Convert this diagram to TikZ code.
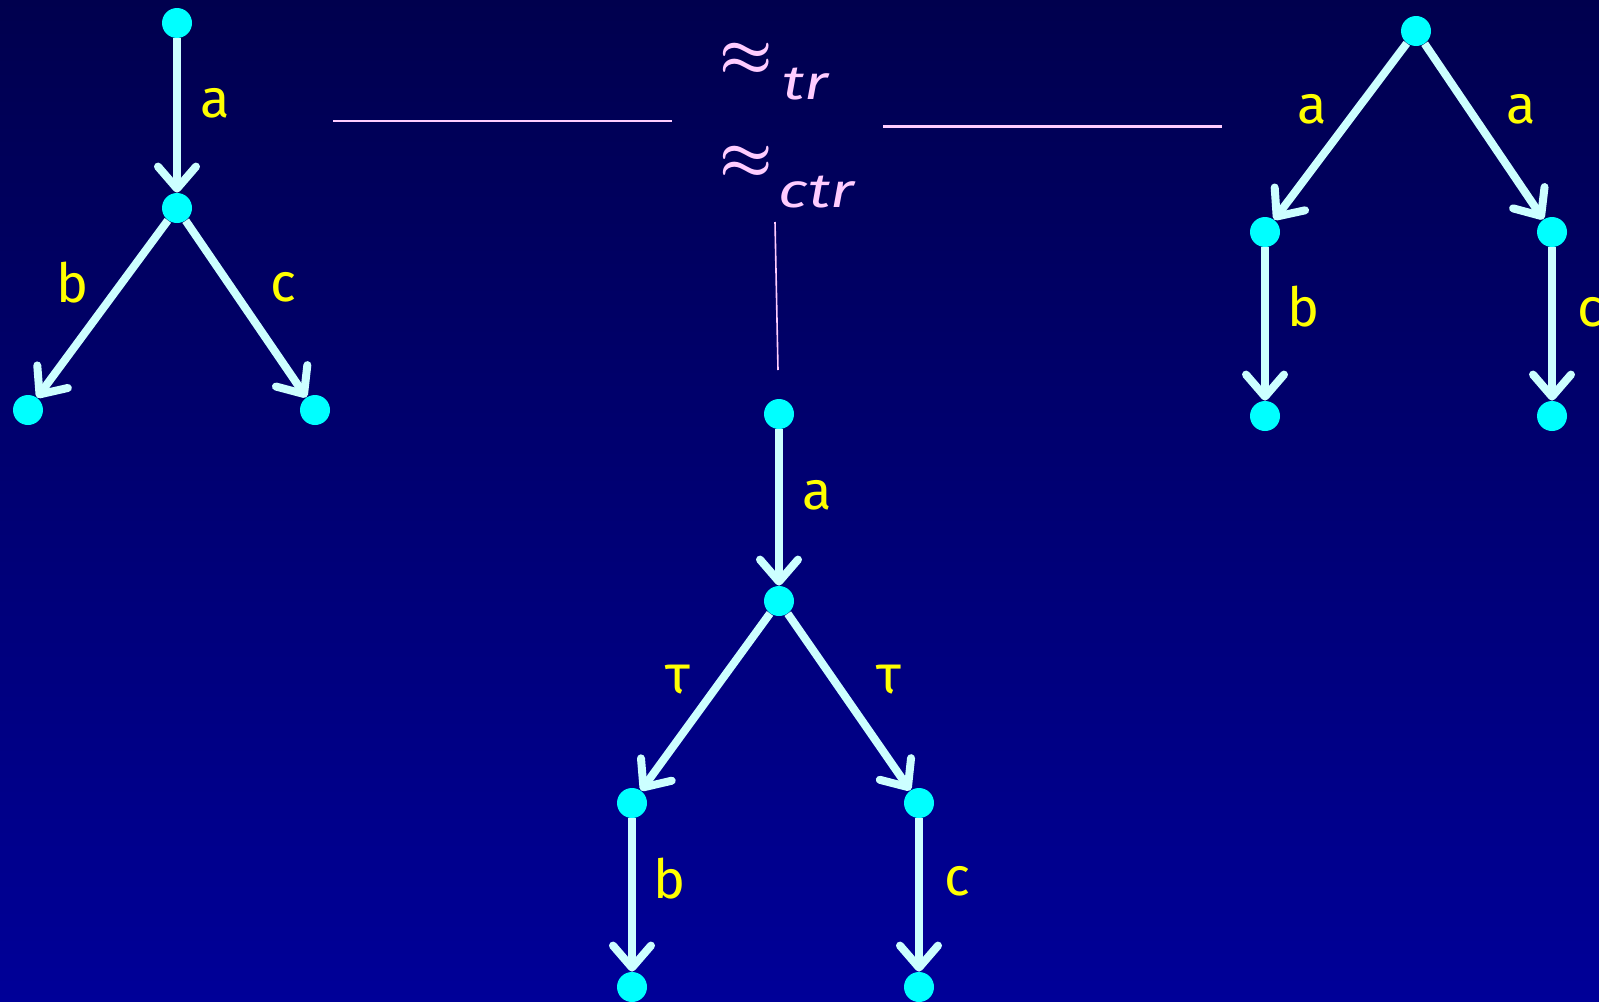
\documentclass[tikz,border=0pt]{standalone}
\usepackage{fontspec}
\setmainfont{Fira Sans}
\usetikzlibrary{positioning, arrows.meta, calc}

\definecolor{bgtop}{RGB}{0,0,78}
\definecolor{bgbot}{RGB}{0,0,152}
\definecolor{dotcyan}{RGB}{0,255,255}
\definecolor{arrcyan}{RGB}{204,255,255}
\definecolor{lblyellow}{RGB}{255,255,0}
\definecolor{relpink}{RGB}{255,204,255}

\newcommand{\relsym}{\scalebox{1.2}{\boldmath$\approx$}}
\newcommand{\relsub}[1]{\scalebox{1.3}[1]{\fontsize{24}{28}\selectfont\itshape #1}}

\tikzset{
    state/.style={circle, fill=dotcyan, inner sep=0pt, minimum size=15pt},
    trans/.style={draw=arrcyan, line width=4pt, ->},
    lbl/.style={text=lblyellow, font=\fontsize{27}{30}\selectfont, inner sep=0pt},
    rel/.style={text=relpink, inner sep=0pt, anchor=base west, font=\fontsize{24.88}{30}\selectfont},
    relline/.style={draw=relpink},
}

\begin{document}
\begin{tikzpicture}[%
    x=0.5pt, y=-0.5pt,  % pixel grid, y runs down
    >={Straight Barb[length=11pt, width=19pt, round]},
]

    % ==========================================
    % 0. Background
    % ==========================================
    \useasboundingbox (0,0) rectangle (1599,1001);
    \shade[top color=bgtop, bottom color=bgbot] (0,0) rectangle (1599,1001);

    % ==========================================
    % 1. States (Nodes)
    % ==========================================
    % --- left tree ---
    \node[state] (l0) at (177, 23) {};
    \node[state] (l1) at (177,208) {};
    \node[state] (l2) at ( 28,410) {};
    \node[state] (l3) at (315,410) {};

    % --- middle tree ---
    \node[state] (m0) at (779,414) {};
    \node[state] (m1) at (779,601) {};
    \node[state] (m2) at (632,803) {};
    \node[state] (m3) at (919,803) {};
    \node[state] (m4) at (632,987) {};
    \node[state] (m5) at (919,987) {};

    % --- right tree ---
    \node[state] (r0) at (1416, 31) {};
    \node[state] (r1) at (1265,232) {};
    \node[state] (r2) at (1552,232) {};
    \node[state] (r3) at (1265,416) {};
    \node[state] (r4) at (1552,416) {};

    % ==========================================
    % 2. Transitions (Edges)
    % ==========================================
    \path[trans]
        % --- left tree ---
        (l0) edge node[lbl, xshift=19pt, yshift=6pt] {a} (l1)
        (l1) edge node[lbl, xshift=-15pt, yshift=13pt] {b} (l2)
        (l1) edge node[lbl, xshift=18.5pt, yshift=11pt] {c} (l3)

        % --- middle tree ---
        (m0) edge node[lbl, xshift=19pt, yshift=6pt] {a} (m1)
        (m1) edge node[lbl, xshift=-14pt, yshift=11pt] {τ} (m2)
        (m1) edge node[lbl, xshift=20pt, yshift=11pt] {τ} (m3)
        (m2) edge node[lbl, xshift=19pt, yshift=8pt] {b} (m4)
        (m3) edge node[lbl, xshift=19pt, yshift=7pt] {c} (m5)

        % --- right tree ---
        (r0) edge node[lbl, xshift=-14pt, yshift=11pt] {a} (r1)
        (r0) edge node[lbl, xshift=18.5pt, yshift=11pt] {a} (r2)
        (r1) edge node[lbl, xshift=19.5pt, yshift=8.5pt] {b} (r3)
        (r2) edge node[lbl, xshift=19pt, yshift=6pt] {c} (r4);

    % ==========================================
    % 3. Relations between the trees
    % ==========================================
    \node[rel] (tr) at (719,74)
        {\relsym\hspace{5pt}\raisebox{-13pt}{\relsub{tr}}};
    \node[rel] (ctr) at (719,177)
        {\relsym\hspace{3pt}\raisebox{-15pt}{\relsub{ctr}}};

    \coordinate (sepL1) at (333,121);
    \coordinate (sepL2) at (672,121);
    \coordinate (sepR1) at (883,126);
    \coordinate (sepR2) at (1222,126);
    \coordinate (sepV1) at (775,222);
    \coordinate (sepV2) at (778,370);

    \draw[relline, line width=0.8pt] (sepL1) -- (sepL2);
    \draw[relline, line width=1.5pt] (sepR1) -- (sepR2);
    \draw[relline, line width=0.8pt] (sepV1) -- (sepV2);

\end{tikzpicture}
\end{document}
